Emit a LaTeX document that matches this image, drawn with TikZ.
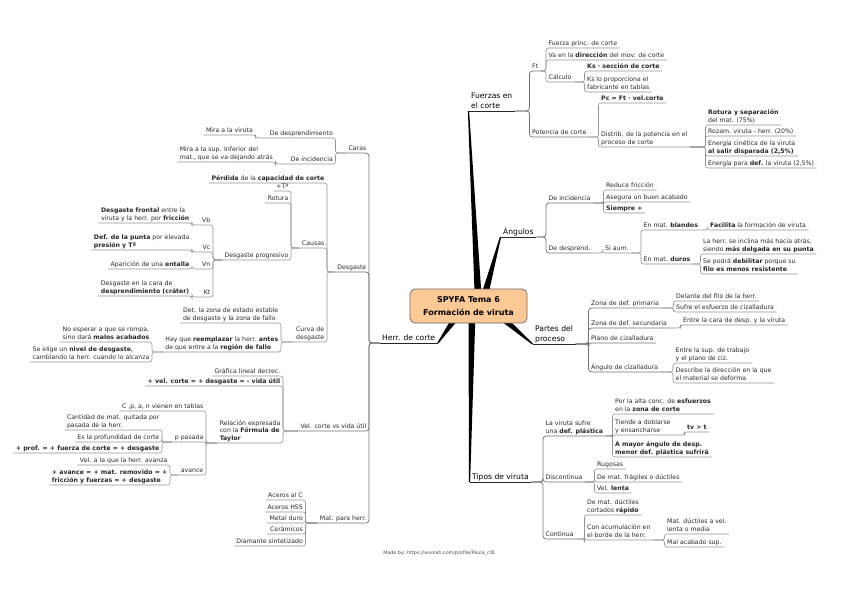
\documentclass[tikz,border=0pt]{standalone}
\usepackage{fontspec}
\setmainfont{DejaVu Sans}
\usetikzlibrary{calc}
\definecolor{boxfill}{RGB}{252,200,150}
\definecolor{txtc}{RGB}{40,40,40}
\tikzset{
  lf/.style={inner xsep=2.5pt, inner ysep=0.6pt, text depth=1.4pt, align=left, font=\fontsize{6.2}{7.9}\selectfont, text=txtc},
  mainlbl/.style={inner xsep=2.5pt, inner ysep=0.8pt, text depth=1.8pt, align=left, font=\fontsize{7.6}{9.8}\selectfont, text=black},
  conn/.style={draw=black!42, line width=0.6pt, rounded corners=2.5pt},
  conn1/.style={draw=black!55, line width=0.75pt, rounded corners=3pt},
  mainline/.style={draw=black!85, line width=0.9pt},
}
\newcommand\kr[6][conn]{\node[lf,anchor=south west] (#2) at (#4,#5) {#6};\draw[#1] (#3.south east) -| (#2.south west) -- (#2.south east);}
\newcommand\kl[6][conn]{\node[lf,anchor=south east] (#2) at (#4,#5) {#6};\draw[#1] (#3.south west) -| (#2.south east) -- (#2.south west);}
\newcommand\taper[4]{\fill[black] ($(#1)!#3!90:(#2)$) -- ($(#1)!#3!-90:(#2)$) -- ($(#2)!#4!90:(#1)$) -- ($(#2)!#4!-90:(#1)$) -- cycle;}
\begin{document}
\begin{tikzpicture}[x=1pt,y=-1pt]
\useasboundingbox (0,0) rectangle (848,599);
% ---------- Fuerzas en el corte
\node[mainlbl, anchor=south west] (Fz) at (468.5,111) {Fuerzas en\\el corte};
\draw[mainline] (Fz.south west) -- (Fz.south east);
\kr[conn1]{Ft}{Fz}{529.5}{71}{Ft}
\kr{FPC}{Ft}{546}{48}{Fuerza princ. de corte}
\kr{VAd}{Ft}{546}{60}{Va en la \textbf{dirección} del mov. de corte}
\kr{Calc}{Ft}{546}{82}{Cálculo}
\kr{Ks}{Calc}{584.5}{71}{\textbf{Ks · sección de corte}}
\kr{Ksp}{Calc}{584.5}{92}{Ks lo proporciona el\\fabricante en tablas}
\kr[conn1]{Pot}{Fz}{529.5}{137}{Potencia de corte}
\kr{Pc}{Pot}{598.5}{103}{\textbf{Pc = Ft · vel.corte}}
\kr{Dis}{Pot}{598.5}{147}{Distrib. de la potencia en el\\proceso de corte}
\kr{Rot}{Dis}{705.5}{125}{\textbf{Rotura y separación}\\del mat. (75\%)}
\kr{Roz}{Dis}{705.5}{136}{Rozam. viruta - herr. (20\%)}
\kr{Ene}{Dis}{705.5}{156}{Energía cinética de la viruta\\\textbf{al salir disparada (2,5\%)}}
\kr{Edf}{Dis}{705.5}{168}{Energía para \textbf{def.} la viruta (2,5\%)}
% ---------- Angulos
\node[mainlbl, anchor=south west] (An) at (500.5,237) {Ángulos};
\draw[mainline] (An.south west) -- (An.south east);
\kr[conn1]{DI}{An}{546}{203}{De incidencia}
\kr{RF}{DI}{603.5}{190}{Reduce fricción}
\kr{AB}{DI}{603.5}{202}{Asegura un buen acabado}
\kr{SP}{DI}{603.5}{213}{\textbf{Siempre +}}
\kr[conn1]{DD}{An}{546}{253}{De desprend.}
\kr{SA}{DD}{602.5}{253}{Si aum.}
\kr{EB}{SA}{641}{230}{En mat. \textbf{blandos}}
\kr{FA}{EB}{707.5}{230}{\textbf{Facilita} la formación de viruta}
\kr{ED}{SA}{641}{264}{En mat. \textbf{duros}}
\kr{LH}{ED}{700.5}{254}{La herr. se inclina más hacia atrás,\\siendo \textbf{más delgada en su punta}}
\kr{SPD}{ED}{700.5}{274}{Se podrá \textbf{debilitar} porque su\\\textbf{filo es menos resistente}}
% ---------- Partes del proceso
\node[mainlbl, anchor=south west] (Pa) at (532.5,344) {Partes del\\proceso};
\draw[mainline] (Pa.south west) -- (Pa.south east);
\kr[conn1]{ZP}{Pa}{588.5}{308}{Zona de def. primaria}
\kr{DFh}{ZP}{673.5}{301}{Delante del filo de la herr.}
\kr{SEc}{ZP}{673.5}{312}{Sufre el esfuerzo de cizalladura}
\kr[conn1]{ZS}{Pa}{588.5}{328}{Zona de def. secundaria}
\kr{ECv}{ZS}{680.5}{325}{Entre la cara de desp. y la viruta}
\kr[conn1]{PCz}{Pa}{588.5}{343}{Plano de cizalladura}
\kr[conn1]{ACz}{Pa}{588.5}{372}{Ángulo de cizalladura}
\kr{ESt}{ACz}{673}{363}{Entre la sup. de trabajo\\y el plano de ciz.}
\kr{DSd}{ACz}{673}{383}{Describe la dirección en la que\\el material se deforma}
% ---------- Tipos de viruta
\node[mainlbl, anchor=south west] (Ti) at (469.5,482) {Tipos de viruta};
\draw[mainline] (Ti.south west) -- (Ti.south east);
\kr[conn1]{LV}{Ti}{543}{436}{La viruta sufre\\una \textbf{def. plástica}}
\kr{PA}{LV}{612.5}{414}{Por la alta conc. de \textbf{esfuerzos}\\en la \textbf{zona de corte}}
\kr{TD}{LV}{612.5}{435}{Tiende a doblarse\\y ensancharse}
\kr{TV}{TD}{684.5}{432}{\textbf{tv > t}}
\kr{AM}{LV}{612.5}{457}{\textbf{A mayor ángulo de desp.}\\\textbf{menor def. plástica sufrirá}}
\kr[conn1]{DC}{Ti}{543}{482}{Discontinua}
\kr{RU}{DC}{594.5}{469}{Rugosas}
\kr{DMf}{DC}{594.5}{482}{De mat. frágiles o dúctiles}
\kr{VL}{DC}{594.5}{493}{Vel. \textbf{lenta}}
\kr[conn1]{CO}{Ti}{543}{539}{Continua}
\kr{DU}{CO}{584.5}{515}{De mat. dúctiles\\cortados \textbf{rápido}}
\kr{CA}{CO}{584.5}{540}{Con acumulación en\\el borde de la herr.}
\kr{MDv}{CA}{664.5}{534}{Mat. dúctiles a vel.\\lenta o media}
\kr{MAs}{CA}{664.5}{547}{Mal acabado sup.}
% ---------- Herr. de corte
\node[mainlbl, anchor=south west] (He) at (379.5,343) {Herr. de corte};
\draw[mainline] (He.south west) -- (He.south east);
\kl[conn1]{CR}{He}{369}{153}{Caras}
\kl{DDp}{CR}{335.5}{138}{De desprendimiento}
\kl{MV}{DDp}{255.5}{135}{Mira a la viruta}
\kl{DIc}{CR}{335.5}{164}{De incidencia}
\kl{MS}{DIc}{275.5}{162}{Mira a la sup. Inferior del\\mat., que se va dejando atrás}
\kl[conn1]{DG}{He}{369}{272}{Desgaste}
\kl{PE}{DG}{327}{183}{\textbf{Pérdida} de la \textbf{capacidad de corte}}
\kl{CU}{DG}{327}{248}{Causas}
\kl{TA}{CU}{291}{191}{+Tª}
\kl{RO}{CU}{291}{203}{Rotura}
\kl{DP}{CU}{291}{260}{Desgaste progresivo}
\kl{VB}{DP}{213}{225}{Vb}
\kl{DFr}{VB}{192}{223}{\textbf{Desgaste frontal} entre la\\viruta y la herr. por \textbf{fricción}}
\kl{VC}{DP}{213}{252}{Vc}
\kl{DPu}{VC}{192}{250}{\textbf{Def. de la punta} por elevada\\\textbf{presión y Tª}}
\kl{VN}{DP}{213}{269}{Vn}
\kl{APe}{VN}{192}{269}{Aparición de una \textbf{entalla}}
\kl{KT}{DP}{213}{297}{Kt}
\kl{DCc}{KT}{192}{296}{Desgaste en la cara de\\\textbf{desprendimiento (cráter)}}
\kl{CD}{DG}{327}{342}{Curva de\\desgaste}
\kl{DZ}{CD}{281}{323}{Det. la zona de estado estable\\de desgaste y la zona de fallo}
\kl{HQ}{CD}{281}{352}{Hay que \textbf{reemplazar} la herr. \textbf{antes}\\de que entre a la \textbf{región de fallo}}
\kl{NE}{HQ}{152}{342}{No esperar a que se rompa,\\sino dará \textbf{malos acabados}}
\kl{SEn}{HQ}{152}{362}{Se elige un \textbf{nivel de desgaste},\\cambiando la herr. cuando lo alcanza}
\kl[conn1]{VV}{He}{369}{431}{Vel. corte vs vida útil}
\kl{GL}{VV}{283}{376}{Gráfica lineal decrec.}
\kl{VCd}{VV}{283}{386}{\textbf{+ vel. corte = + desgaste = - vida útil}}
\kl{RE}{VV}{283}{443}{Relación expresada\\con la \textbf{Fórmula de}\\\textbf{Taylor}}
\kl{CTb}{RE}{206}{411}{C ,p, a, n vienen en tablas}
\kl{PP}{RE}{206}{442}{p pasada}
\kl{CMq}{PP}{162}{430}{Cantidad de mat. quitada por\\pasada de la herr.}
\kl{EPc}{PP}{162}{442}{Es la profundidad de corte}
\kl{PFf}{PP}{162}{453}{\textbf{+ prof. = + fuerza de corte = + desgaste}}
\kl{AVc}{RE}{206}{475}{avance}
\kl{VAh}{AVc}{170}{465}{Vel. a la que la herr. avanza}
\kl{AVm}{AVc}{170}{485}{\textbf{+ avance = + mat. removido = +}\\\textbf{fricción y fuerzas = + desgaste}}
\kl[conn1]{MP}{He}{369}{523}{Mat. para herr.}
\kl{AC1}{MP}{305.5}{500}{Aceros al C}
\kl{AC2}{MP}{305.5}{512}{Aceros HSS}
\kl{MDu}{MP}{305.5}{523}{Metal duro}
\kl{CEr}{MP}{305.5}{534}{Cerámicos}
\kl{DSi}{MP}{305.5}{546}{Diamante sintetizado}
% ---------- tapered branches
\coordinate (cF) at (478,294);
\coordinate (cA) at (485,294);
\coordinate (cP) at (500,316);
\coordinate (cH) at (457,316);
\coordinate (cT) at (472,316);
\taper{Fz.south west}{cF}{0.6pt}{3.4pt}
\taper{An.south west}{cA}{0.6pt}{3.4pt}
\taper{Pa.south west}{cP}{0.6pt}{3.4pt}
\taper{He.south east}{cH}{0.6pt}{3.4pt}
\taper{Ti.south west}{cT}{0.6pt}{3.4pt}
% ---------- central node
\node[draw=black!60, fill=boxfill, rounded corners=5pt, line width=0.7pt, minimum width=117pt, minimum height=34pt, align=center, font=\fontsize{8}{12.5}\selectfont\bfseries] (C) at (468.5,306) {SPYFA Tema 6\\Formación de viruta};
\node[font=\fontsize{4.8}{6}\selectfont, text=black!70] (foot) at (439,553) {Made by: https://wuolah.com/profile/Paula\_ct8};
\end{tikzpicture}
\end{document}
